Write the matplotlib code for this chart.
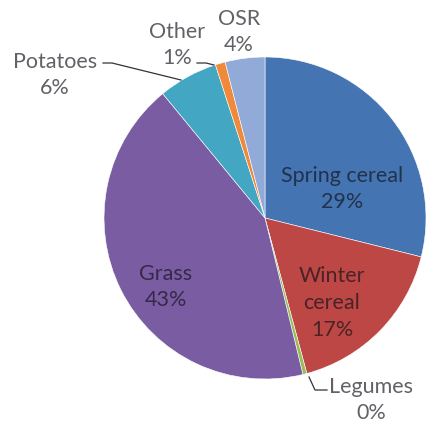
import matplotlib.pyplot as plt

# crop shares, clockwise from 12 o'clock
crops = ['Spring cereal', 'Winter cereal', 'Legumes', 'Grass', 'Potatoes', 'Other', 'OSR']
shares = [29, 17, 0.4, 43, 6, 1, 4]
pct_labels = ['29%', '17%', '0%', '43%', '6%', '1%', '4%']
colors = ['#4474B2', '#BC4744', '#9BBB59', '#7A5CA2', '#43A7C3', '#F08A3A', '#91AAD8']

W, H = 428, 424
fig = plt.figure(figsize=(W / 100, H / 100), dpi=100)
ax = fig.add_axes([0, 0, 1, 1])

cx, cy, r = 265, H - 218, 161
wedges, _ = ax.pie(shares, colors=colors, startangle=90, counterclock=False,
                   center=(cx, cy), radius=r,
                   wedgeprops=dict(edgecolor='white', linewidth=0.4))

ax.set_xlim(0, W)
ax.set_ylim(0, H)
ax.set_aspect('equal')
ax.axis('off')

# dark, semi-transparent text so it takes on the wedge tint like the original
txt = dict(fontsize=15.5, color='#101018', alpha=0.66, ha='center', va='center',
           family=['Lato', 'DejaVu Sans'], linespacing=1.42)

# labels inside the wedges (pixel positions, y measured from top)
inside = {
    'Spring cereal': ('Spring cereal', 342, 189),
    'Winter cereal': ('Winter\ncereal', 332, 303),
    'Grass': ('Grass', 166, 287),
}
for name, (head, x, y) in inside.items():
    i = crops.index(name)
    ax.text(x, H - y, head + '\n' + pct_labels[i], **txt)

# labels outside, with leader lines
outside = {
    'Potatoes': (55, 75),
    'Other': (177, 45),
    'OSR': (239, 32),
}
for name, (x, y) in outside.items():
    i = crops.index(name)
    ax.text(x, H - y, name + '\n' + pct_labels[i], **txt)

line = dict(color='#333333', lw=0.9)
ax.plot([103, 112, 181], [H - 63, H - 63, H - 80], **line)
ax.plot([197, 206, 214], [H - 63, H - 63, H - 65], **line)

i = crops.index('Legumes')
ax.plot([309, 315, 327], [H - 377, H - 390, H - 390], **line)
ax.text(371, H - 400, 'Legumes\n' + pct_labels[i], **txt)

fig.savefig('out.png', dpi=100, facecolor='white')
